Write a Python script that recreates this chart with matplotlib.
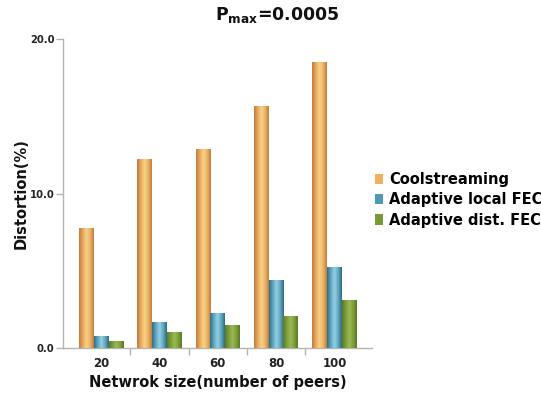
import numpy as np
import matplotlib
matplotlib.use("Agg")
import matplotlib.pyplot as plt
from matplotlib.colors import LinearSegmentedColormap
from matplotlib.patches import Patch
from matplotlib.ticker import FixedLocator, FormatStrFormatter, NullFormatter

# Data
network_sizes = ["20", "40", "60", "80", "100"]
coolstreaming = [7.75, 12.2, 12.85, 15.6, 18.45]
adaptive_local_fec = [0.73, 1.63, 2.23, 4.34, 5.2]
adaptive_dist_fec = [0.43, 1.03, 1.48, 2.03, 3.08]
series_labels = ["Coolstreaming", "Adaptive local FEC", "Adaptive dist. FEC"]

plt.rcParams["font.family"] = "DejaVu Sans"
plt.rcParams["font.weight"] = "bold"
plt.rcParams["mathtext.fontset"] = "dejavusans"

fig = plt.figure(figsize=(5.41, 3.95), dpi=100)
W, H = 541, 395
ax = fig.add_axes([63 / W, 1 - 348.3 / H, (371.7 - 63) / W, (348.3 - 39) / H])

# cylinder-like shading for each series: dark edge -> light core -> dark edge
shades = [
    ["#c27a3c", "#e9a85f", "#f7d385", "#ecb468", "#c47b3a"],
    ["#2f6f88", "#5ea6bf", "#95d0e2", "#63a9c2", "#2e6a82"],
    ["#5d7c26", "#7d9d3a", "#9bb955", "#80a03c", "#5a7824"],
]
swatch = ["#efb15e", "#4d9ab8", "#789a36"]

x = np.arange(len(network_sizes))
w = 0.252
grad = np.linspace(0, 1, 64).reshape(1, -1)
for k, vals in enumerate([coolstreaming, adaptive_local_fec, adaptive_dist_fec]):
    bars = ax.bar(x + (k - 1) * w, vals, width=w, color=swatch[k], zorder=2,
                  linewidth=0)
    cmap = LinearSegmentedColormap.from_list(f"s{k}", shades[k])
    for b in bars:
        bx, bw, bh = b.get_x(), b.get_width(), b.get_height()
        ax.imshow(grad, cmap=cmap, extent=[bx, bx + bw, 0, bh],
                  aspect="auto", zorder=3, interpolation="bilinear")

ax.set_xlim(-0.655, 4.64)
ax.set_ylim(0, 20)

for side in ["top", "right"]:
    ax.spines[side].set_visible(False)
for side in ["left", "bottom"]:
    ax.spines[side].set_color("#b4b4b4")
    ax.spines[side].set_linewidth(1.0)

# category separators as ticks, labels at group centres
ax.xaxis.set_major_locator(FixedLocator(x[:-1] + 0.5))
ax.xaxis.set_major_formatter(NullFormatter())
ax.set_xticks(x, network_sizes, minor=True)
ax.tick_params(axis="x", which="major", length=5, width=1, color="#b4b4b4")
ax.tick_params(axis="x", which="minor", length=0, pad=6, labelsize=8.5,
               labelcolor="#222222")

ax.set_yticks([0, 10, 20])
ax.yaxis.set_major_formatter(FormatStrFormatter("%.1f"))
ax.tick_params(axis="y", length=5, width=1, color="#b4b4b4", pad=1.2,
               labelsize=7.2, labelcolor="#222222")
for t in ax.get_xticklabels(minor=True) + ax.get_yticklabels():
    t.set_fontweight("bold")

ax.set_xlabel("Netwrok size(number of peers)", fontsize=10.5,
              fontweight="bold", color="#111111", labelpad=4)
ax.set_ylabel("Distortion(%)", fontsize=10.5, fontweight="bold",
              color="#111111")
ax.yaxis.set_label_coords(-0.11, 0.5)

fig.text(277.5 / W, 1 - 15 / H, r"$\mathbf{P}_{\mathbf{max}}$=0.0005",
         ha="center", va="center", fontsize=12.5, fontweight="bold",
         color="#111111")

handles = [Patch(facecolor=c, edgecolor="none") for c in swatch]
fig.legend(handles, series_labels, loc="upper left",
           bbox_to_anchor=(375 / W, 1 - 172 / H), frameon=False,
           prop={"size": 10.5, "weight": "bold"}, handlelength=0.55,
           handleheight=0.7, handletextpad=0.4, labelspacing=0.36,
           borderpad=0, borderaxespad=0)

fig.savefig("out.png", dpi=100)
